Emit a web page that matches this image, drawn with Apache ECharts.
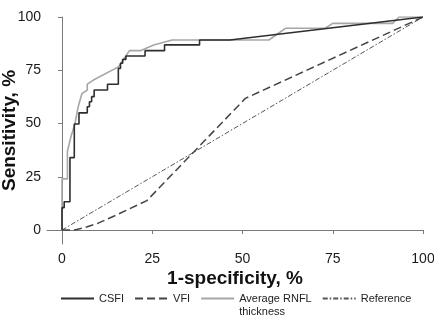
<!DOCTYPE html>
<html>
<head>
<meta charset="utf-8">
<script src="https://cdn.jsdelivr.net/npm/echarts@6/dist/echarts.min.js"></script>
<style>
  html, body { margin: 0; padding: 0; background: #fff; }
  #chart { width: 434px; height: 320px; }
</style>
</head>
<body>
<div id="chart"></div>
<script>
// ROC curves (x = 1-specificity %, y = sensitivity %)
const csfiX = [0, 0, 0.6, 0.6, 2.2, 2.2, 3.4, 3.4, 4.7, 4.7, 7, 7, 7.6, 7.6, 8.2, 8.2, 8.9, 8.9, 12.6, 12.6, 15.6, 15.6, 16.2, 16.2, 16.8, 16.8, 17.7, 17.7, 23, 23, 28.4, 28.4, 38.1, 38.1, 46.5, 100]
const csfiY = [0, 10.5, 10.5, 13.3, 13.3, 34, 34, 49.8, 49.8, 55, 55, 57.9, 57.9, 60.2, 60.2, 62.6, 62.6, 65.7, 65.7, 68.4, 68.4, 75.9, 75.9, 78.3, 78.3, 80.1, 80.1, 81.7, 81.7, 84.2, 84.2, 86.9, 86.9, 89.2, 89.2, 100]

const vfiX = [0, 3.5, 7, 10, 15, 23.5, 50.8, 100]
const vfiY = [0, 0, 1.5, 3.2, 7, 13.8, 61.8, 100]

const rnflX = [0, 0, 1.5, 1.5, 2.5, 3.6, 4.5, 5.5, 7, 7, 8.7, 15.6, 18.7, 21.7, 25.4, 30.5, 57.3, 61.9, 72.9, 75, 91.6, 93.4, 100]
const rnflY = [0, 24, 24, 37, 44, 50, 58, 64, 65.7, 68.5, 70.4, 76.6, 84.2, 84.2, 86.9, 89.2, 89.2, 94.7, 94.7, 97, 97, 100, 100]

const refX = [0, 100]
const refY = [0, 100]

const seriesNames = ['CSFI', 'VFI', 'Average RNFL thickness', 'Reference']
const tickValues = [0, 25, 50, 75, 100]

const zip = (xs, ys) => xs.map((x, i) => [x, ys[i]])

const chart = echarts.init(document.getElementById('chart'))
const font = "'Liberation Sans', Arial, sans-serif"

const axisCommon = {
  type: 'value',
  max: 100,
  splitLine: { show: false },
  axisLine: { show: true, lineStyle: { color: '#7a7a7a', width: 1 } },
  axisTick: { show: true, length: 4, customValues: tickValues, lineStyle: { color: '#7a7a7a' } },
  axisLabel: { customValues: tickValues, color: '#1a1a1a', fontSize: 14, fontFamily: font },
  nameLocation: 'middle',
  nameMoveOverlap: false,
  nameTextStyle: { color: '#111', fontSize: 19, fontWeight: 'bold', fontFamily: font },
}

const option = {
  animation: false,
  grid: { left: 47, right: 11, top: 17, bottom: 76, outerBoundsMode: 'none', containLabel: false },
  xAxis: Object.assign({}, axisCommon, {
    min: -4.16,
    name: '1-specificity, %',
    nameGap: 25,
    axisLabel: Object.assign({}, axisCommon.axisLabel, { margin: 8 }),
  }),
  yAxis: Object.assign({}, axisCommon, {
    min: -6.57,
    name: 'Sensitivity, %',
    nameGap: 28,
    axisLabel: Object.assign({}, axisCommon.axisLabel, { margin: 6 }),
  }),
  legend: {
    left: 60,
    top: 279,
    padding: 0,
    itemWidth: 33,
    itemHeight: 10,
    itemGap: 10,
    itemStyle: { opacity: 0 }, // hide the marker, keep only the line sample
    textStyle: { color: '#222', fontSize: 11, fontFamily: font, lineHeight: 13 },
    data: seriesNames,
    // blank first line keeps "Average RNFL" level with the other labels
    formatter: (name) => (name === 'Average RNFL thickness' ? ' \nAverage RNFL\nthickness' : name),
  },
  series: [
    {
      name: seriesNames[0], type: 'line', symbol: 'none', z: 4,
      data: zip(csfiX, csfiY),
      lineStyle: { color: '#2e2e2e', width: 1.6 },
      itemStyle: { color: '#2e2e2e' },
    },
    {
      name: seriesNames[1], type: 'line', symbol: 'none', z: 2,
      data: zip(vfiX, vfiY),
      lineStyle: { color: '#444', width: 1.5, type: [8, 4] },
      itemStyle: { color: '#444' },
    },
    {
      name: seriesNames[2], type: 'line', symbol: 'none', z: 3,
      data: zip(rnflX, rnflY),
      lineStyle: { color: '#a6a6a6', width: 1.6 },
      itemStyle: { color: '#a6a6a6' },
    },
    {
      name: seriesNames[3], type: 'line', symbol: 'none', z: 1,
      data: zip(refX, refY),
      lineStyle: { color: '#555', width: 1, type: [5, 2, 1.5, 2] },
      itemStyle: { color: '#555' },
    },
  ],
}

chart.setOption(option)
</script>
</body>
</html>
